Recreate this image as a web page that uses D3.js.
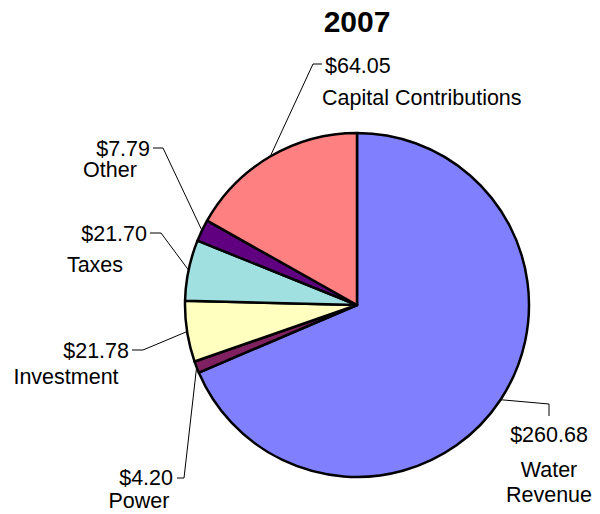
<!DOCTYPE html>
<html><head><meta charset="utf-8">
<script src="https://cdn.jsdelivr.net/npm/d3@7"></script>
<style>body{margin:0;background:#fff}svg{display:block}text{font-family:"Liberation Sans",Arial,sans-serif;fill:#000}</style>
</head><body>
<script>
const categories = ["Water Revenue","Power","Investment","Taxes","Other","Capital Contributions"];
const values = [260.68, 4.20, 21.78, 21.70, 7.79, 64.05];
const valueLabels = ["$260.68","$4.20","$21.78","$21.70","$7.79","$64.05"];
const colors = ["#8080FF","#7F2060","#FFFFC0","#A0E0E0","#600080","#FF8080"];
const title = "2007";

const W=600,H=514,cx=357,cy=305,R=172;
const svg=d3.select("body").append("svg").attr("width",W).attr("height",H);
svg.append("text").attr("x",357).attr("y",32).attr("text-anchor","middle")
  .style("font-size","30px").style("font-weight","bold").text(title);

const pie=d3.pie().sort(null).value(d=>d)(values);
const arc=d3.arc().innerRadius(0).outerRadius(R);
const g=svg.append("g").attr("transform",`translate(${cx},${cy})`);
g.selectAll("path").data(pie).join("path").attr("d",arc)
  .attr("fill",(d,i)=>colors[i]).attr("stroke","#000").attr("stroke-width",2.5).attr("stroke-linejoin","round");

// label layout: elbow point, end point, value label pos/anchor, name lines
const layout=[
  {elbow:[549,404],end:[549,416],val:[549,442,"middle"],names:[[549,477,"middle","Water"],[549,502,"middle","Revenue"]]},
  {elbow:[184,478],end:[177,478],val:[173,485,"end"],names:[[139,508,"middle","Power"]]},
  {elbow:[143,350],end:[132,350],val:[129,358,"end"],names:[[66,384,"middle","Investment"]]},
  {elbow:[161,233],end:[150,233],val:[147,241,"end"],names:[[95,272,"middle","Taxes"]]},
  {elbow:[163,148],end:[153,148],val:[150,156,"end"],names:[[110,177,"middle","Other"]]},
  {elbow:[313,64],end:[322,64],val:[325,73,"start"],names:[[322,105,"start","Capital Contributions"]]}
];
const fs="21.5px";
pie.forEach((d,i)=>{
  const a=(d.startAngle+d.endAngle)/2;
  const p=[cx+R*Math.sin(a),cy-R*Math.cos(a)];
  const L=layout[i];
  svg.append("path").attr("d",d3.line()([p,L.elbow,L.end])).attr("fill","none")
    .attr("stroke","#000").attr("stroke-width",1);
  svg.append("text").attr("x",L.val[0]).attr("y",L.val[1]).attr("text-anchor",L.val[2])
    .style("font-size",fs).text(valueLabels[i]);
  L.names.forEach(n=>svg.append("text").attr("x",n[0]).attr("y",n[1]).attr("text-anchor",n[2])
    .style("font-size",fs).text(n[3]));
});
</script>
</body></html>
